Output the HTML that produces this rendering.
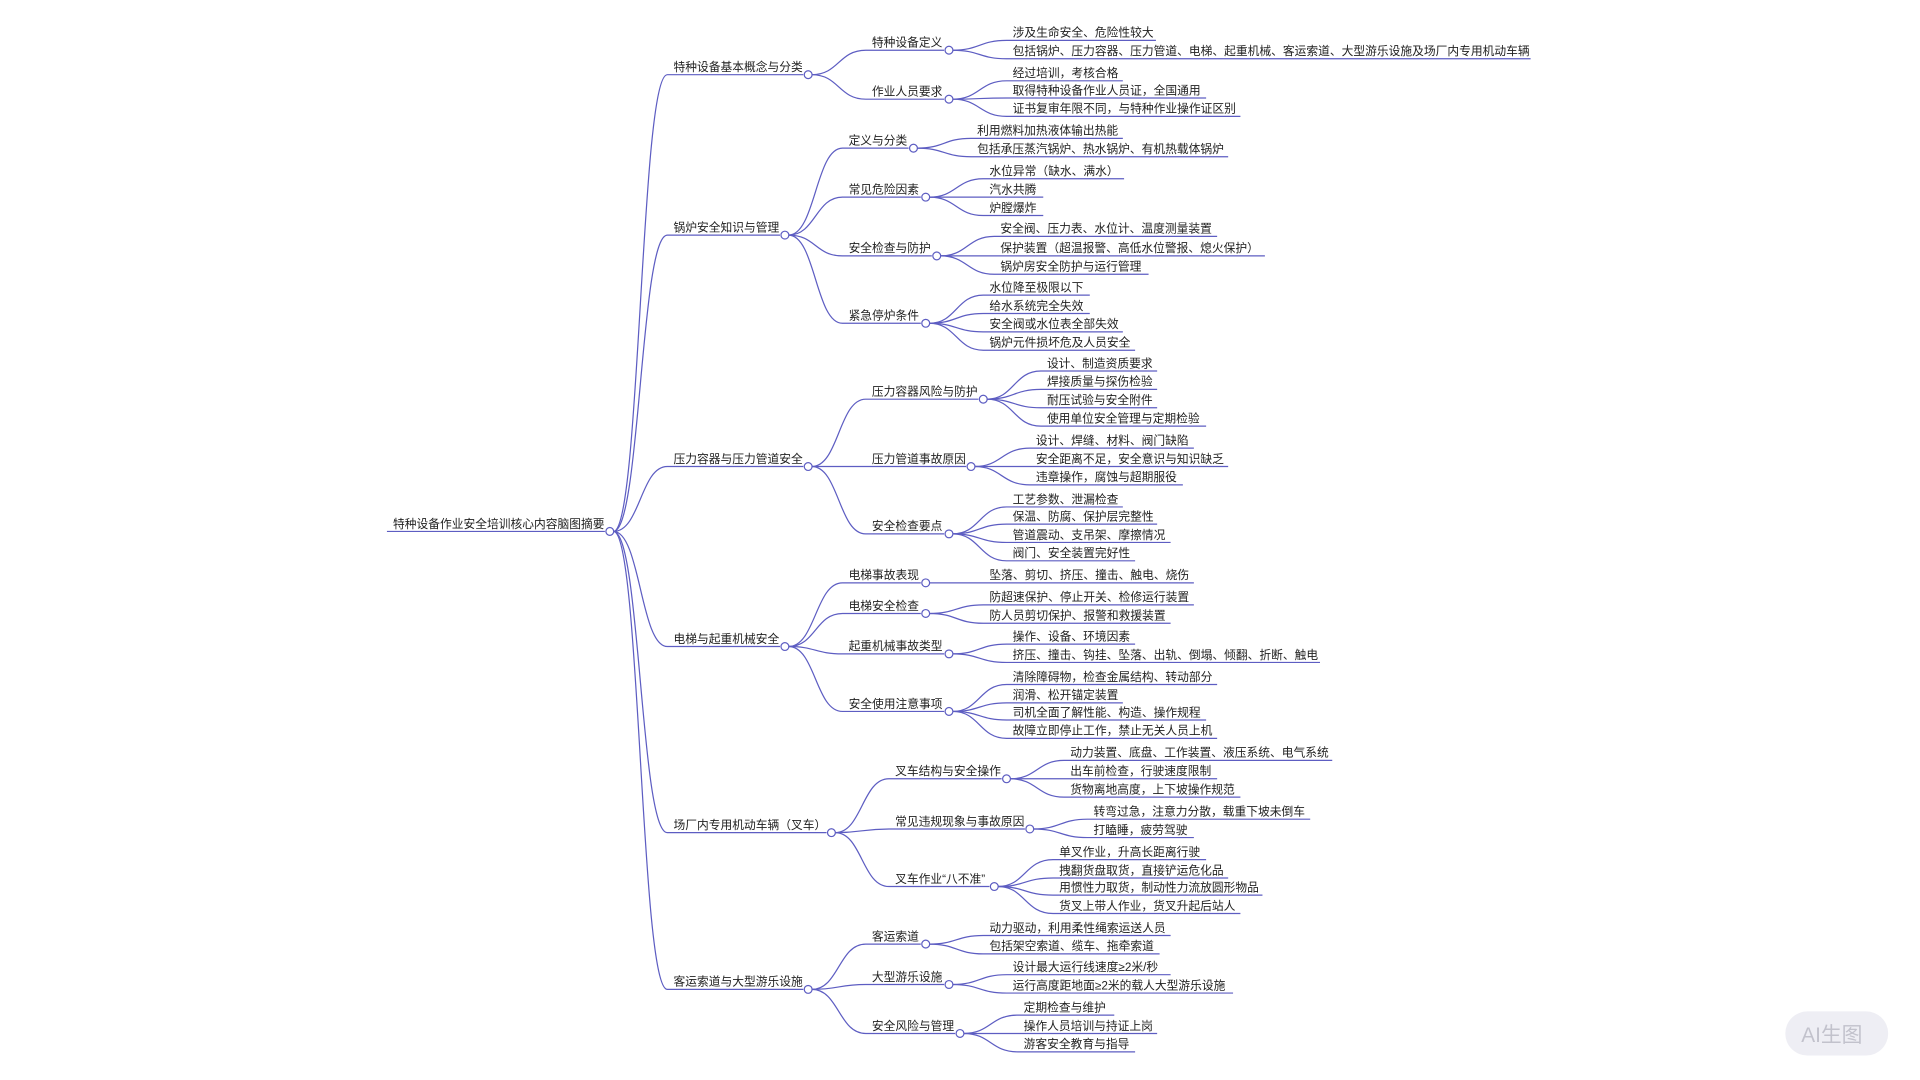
<!DOCTYPE html>
<html><head><meta charset="utf-8"><style>
html,body{margin:0;padding:0;background:#fff;width:1920px;height:1080px;overflow:hidden}
svg{display:block}
text{font-family:"Liberation Sans","Noto Sans CJK SC",sans-serif;font-size:9.6px;fill:#222}
path{fill:none;stroke:#5d5dc2;stroke-width:1}
circle{fill:#fff;stroke:#5d5dc2;stroke-width:1}
</style></head><body>
<svg width="1920" height="1080" viewBox="0 0 1568 882" preserveAspectRatio="none" xmlns="http://www.w3.org/2000/svg">
<path d="M316 434 H494"/>
<text x="321" y="431">特种设备作业安全培训核心内容脑图摘要</text>
<path d="M501 434 C523 434,523 61,545 61 H656"/>
<path d="M501 434 C523 434,523 192,545 192 H637"/>
<path d="M501 434 C523 434,523 381,545 381 H656"/>
<path d="M501 434 C523 434,523 528,545 528 H637"/>
<path d="M501 434 C523 434,523 680,545 680 H675"/>
<path d="M501 434 C523 434,523 808,545 808 H656"/>
<text x="550" y="58">特种设备基本概念与分类</text>
<text x="550" y="189">锅炉安全知识与管理</text>
<text x="550" y="378">压力容器与压力管道安全</text>
<text x="550" y="525">电梯与起重机械安全</text>
<text x="550" y="677">场厂内专用机动车辆（叉车）</text>
<text x="550" y="805">客运索道与大型游乐设施</text>

<path d="M663 61 C685 61,685 41,707 41 H771"/>
<path d="M663 61 C685 61,685 81,707 81 H771"/>
<text x="712" y="38">特种设备定义</text>
<text x="712" y="78">作业人员要求</text>
<path d="M778 41 C800 41,800 33,822 33 H944"/>
<path d="M778 41 C800 41,800 48,822 48 H1250"/>
<path d="M778 81 C800 81,800 66,822 66 H917"/>
<path d="M778 81 C800 81,800 80,822 80 H985"/>
<path d="M778 81 C800 81,800 95,822 95 H1013"/>
<text x="827" y="30">涉及生命安全、危险性较大</text>
<text x="827" y="45">包括锅炉、压力容器、压力管道、电梯、起重机械、客运索道、大型游乐设施及场厂内专用机动车辆</text>
<text x="827" y="63">经过培训，考核合格</text>
<text x="827" y="77">取得特种设备作业人员证，全国通用</text>
<text x="827" y="92">证书复审年限不同，与特种作业操作证区别</text>

<path d="M644 192 C666 192,666 121,688 121 H742"/>
<path d="M644 192 C666 192,666 161,688 161 H752"/>
<path d="M644 192 C666 192,666 209,688 209 H761"/>
<path d="M644 192 C666 192,666 264,688 264 H752"/>
<text x="693" y="118">定义与分类</text>
<text x="693" y="158">常见危险因素</text>
<text x="693" y="206">安全检查与防护</text>
<text x="693" y="261">紧急停炉条件</text>
<path d="M749 121 C771 121,771 113,793 113 H917"/>
<path d="M749 121 C771 121,771 128,793 128 H1003"/>
<text x="798" y="110">利用燃料加热液体输出热能</text>
<text x="798" y="125">包括承压蒸汽锅炉、热水锅炉、有机热载体锅炉</text>
<path d="M759 161 C781 161,781 146,803 146 H918"/>
<path d="M759 161 C781 161,781 161,803 161 H852"/>
<path d="M759 161 C781 161,781 176,803 176 H852"/>
<text x="808" y="143">水位异常（缺水、满水）</text>
<text x="808" y="158">汽水共腾</text>
<text x="808" y="173">炉膛爆炸</text>
<path d="M768 209 C790 209,790 193,812 193 H994"/>
<path d="M768 209 C790 209,790 209,812 209 H1033"/>
<path d="M768 209 C790 209,790 224,812 224 H938"/>
<text x="817" y="190">安全阀、压力表、水位计、温度测量装置</text>
<text x="817" y="206">保护装置（超温报警、高低水位警报、熄火保护）</text>
<text x="817" y="221">锅炉房安全防护与运行管理</text>
<path d="M759 264 C781 264,781 241,803 241 H890"/>
<path d="M759 264 C781 264,781 256,803 256 H890"/>
<path d="M759 264 C781 264,781 271,803 271 H917"/>
<path d="M759 264 C781 264,781 286,803 286 H927"/>
<text x="808" y="238">水位降至极限以下</text>
<text x="808" y="253">给水系统完全失效</text>
<text x="808" y="268">安全阀或水位表全部失效</text>
<text x="808" y="283">锅炉元件损坏危及人员安全</text>

<path d="M663 381 C685 381,685 326,707 326 H799"/>
<path d="M663 381 C685 381,685 381,707 381 H789"/>
<path d="M663 381 C685 381,685 436,707 436 H771"/>
<text x="712" y="323">压力容器风险与防护</text>
<text x="712" y="378">压力管道事故原因</text>
<text x="712" y="433">安全检查要点</text>
<path d="M806 326 C828 326,828 303,850 303 H945"/>
<path d="M806 326 C828 326,828 318,850 318 H945"/>
<path d="M806 326 C828 326,828 333,850 333 H945"/>
<path d="M806 326 C828 326,828 348,850 348 H985"/>
<text x="855" y="300">设计、制造资质要求</text>
<text x="855" y="315">焊接质量与探伤检验</text>
<text x="855" y="330">耐压试验与安全附件</text>
<text x="855" y="345">使用单位安全管理与定期检验</text>
<path d="M796 381 C818 381,818 366,841 366 H975"/>
<path d="M796 381 C818 381,818 381,841 381 H1003"/>
<path d="M796 381 C818 381,818 396,841 396 H966"/>
<text x="846" y="363">设计、焊缝、材料、阀门缺陷</text>
<text x="846" y="378">安全距离不足，安全意识与知识缺乏</text>
<text x="846" y="393">违章操作，腐蚀与超期服役</text>
<path d="M778 436 C800 436,800 414,822 414 H917"/>
<path d="M778 436 C800 436,800 428,822 428 H945"/>
<path d="M778 436 C800 436,800 443,822 443 H956"/>
<path d="M778 436 C800 436,800 458,822 458 H927"/>
<text x="827" y="411">工艺参数、泄漏检查</text>
<text x="827" y="425">保温、防腐、保护层完整性</text>
<text x="827" y="440">管道震动、支吊架、摩擦情况</text>
<text x="827" y="455">阀门、安全装置完好性</text>

<path d="M644 528 C666 528,666 476,688 476 H752"/>
<path d="M644 528 C666 528,666 501,688 501 H752"/>
<path d="M644 528 C666 528,666 534,688 534 H771"/>
<path d="M644 528 C666 528,666 581,688 581 H771"/>
<text x="693" y="473">电梯事故表现</text>
<text x="693" y="498">电梯安全检查</text>
<text x="693" y="531">起重机械事故类型</text>
<text x="693" y="578">安全使用注意事项</text>
<path d="M759 476 C781 476,781 476,803 476 H975"/>
<text x="808" y="473">坠落、剪切、挤压、撞击、触电、烧伤</text>
<path d="M759 501 C781 501,781 494,803 494 H975"/>
<path d="M759 501 C781 501,781 509,803 509 H956"/>
<text x="808" y="491">防超速保护、停止开关、检修运行装置</text>
<text x="808" y="506">防人员剪切保护、报警和救援装置</text>
<path d="M778 534 C800 534,800 526,822 526 H927"/>
<path d="M778 534 C800 534,800 541,822 541 H1078"/>
<text x="827" y="523">操作、设备、环境因素</text>
<text x="827" y="538">挤压、撞击、钩挂、坠落、出轨、倒塌、倾翻、折断、触电</text>
<path d="M778 581 C800 581,800 559,822 559 H994"/>
<path d="M778 581 C800 581,800 574,822 574 H917"/>
<path d="M778 581 C800 581,800 588,822 588 H985"/>
<path d="M778 581 C800 581,800 603,822 603 H994"/>
<text x="827" y="556">清除障碍物，检查金属结构、转动部分</text>
<text x="827" y="571">润滑、松开锚定装置</text>
<text x="827" y="585">司机全面了解性能、构造、操作规程</text>
<text x="827" y="600">故障立即停止工作，禁止无关人员上机</text>

<path d="M682 680 C704 680,704 636,726 636 H818"/>
<path d="M682 680 C704 680,704 677,726 677 H837"/>
<path d="M682 680 C704 680,704 724,726 724 H808"/>
<text x="731" y="633">叉车结构与安全操作</text>
<text x="731" y="674">常见违规现象与事故原因</text>
<text x="731" y="721">叉车作业“八不准”</text>
<path d="M825 636 C847 636,847 621,869 621 H1088"/>
<path d="M825 636 C847 636,847 636,869 636 H994"/>
<path d="M825 636 C847 636,847 651,869 651 H1013"/>
<text x="874" y="618">动力装置、底盘、工作装置、液压系统、电气系统</text>
<text x="874" y="633">出车前检查，行驶速度限制</text>
<text x="874" y="648">货物离地高度，上下坡操作规范</text>
<path d="M844 677 C866 677,866 669,888 669 H1070"/>
<path d="M844 677 C866 677,866 684,888 684 H975"/>
<text x="893" y="666">转弯过急，注意力分散，载重下坡未倒车</text>
<text x="893" y="681">打瞌睡，疲劳驾驶</text>
<path d="M815 724 C837 724,837 702,860 702 H985"/>
<path d="M815 724 C837 724,837 717,860 717 H1003"/>
<path d="M815 724 C837 724,837 731,860 731 H1031"/>
<path d="M815 724 C837 724,837 746,860 746 H1013"/>
<text x="865" y="699">单叉作业，升高长距离行驶</text>
<text x="865" y="714">拽翻货盘取货，直接铲运危化品</text>
<text x="865" y="728">用惯性力取货，制动性力流放圆形物品</text>
<text x="865" y="743">货叉上带人作业，货叉升起后站人</text>

<path d="M663 808 C685 808,685 771,707 771 H752"/>
<path d="M663 808 C685 808,685 804,707 804 H771"/>
<path d="M663 808 C685 808,685 844,707 844 H780"/>
<text x="712" y="768">客运索道</text>
<text x="712" y="801">大型游乐设施</text>
<text x="712" y="841">安全风险与管理</text>
<path d="M759 771 C781 771,781 764,803 764 H956"/>
<path d="M759 771 C781 771,781 779,803 779 H947"/>
<text x="808" y="761">动力驱动，利用柔性绳索运送人员</text>
<text x="808" y="776">包括架空索道、缆车、拖牵索道</text>
<path d="M778 804 C800 804,800 796,822 796 H956"/>
<path d="M778 804 C800 804,800 811,822 811 H1007"/>
<text x="827" y="793">设计最大运行线速度≥2米/秒</text>
<text x="827" y="808">运行高度距地面≥2米的载人大型游乐设施</text>
<path d="M787 844 C809 844,809 829,831 829 H910"/>
<path d="M787 844 C809 844,809 844,831 844 H945"/>
<path d="M787 844 C809 844,809 859,831 859 H927"/>
<text x="836" y="826">定期检查与维护</text>
<text x="836" y="841">操作人员培训与持证上岗</text>
<text x="836" y="856">游客安全教育与指导</text>

<circle cx="498" cy="434" r="3.2"/>
<circle cx="660" cy="61" r="3.2"/>
<circle cx="641" cy="192" r="3.2"/>
<circle cx="660" cy="381" r="3.2"/>
<circle cx="641" cy="528" r="3.2"/>
<circle cx="679" cy="680" r="3.2"/>
<circle cx="660" cy="808" r="3.2"/>
<circle cx="775" cy="41" r="3.2"/>
<circle cx="775" cy="81" r="3.2"/>
<circle cx="746" cy="121" r="3.2"/>
<circle cx="756" cy="161" r="3.2"/>
<circle cx="765" cy="209" r="3.2"/>
<circle cx="756" cy="264" r="3.2"/>
<circle cx="803" cy="326" r="3.2"/>
<circle cx="793" cy="381" r="3.2"/>
<circle cx="775" cy="436" r="3.2"/>
<circle cx="756" cy="476" r="3.2"/>
<circle cx="756" cy="501" r="3.2"/>
<circle cx="775" cy="534" r="3.2"/>
<circle cx="775" cy="581" r="3.2"/>
<circle cx="822" cy="636" r="3.2"/>
<circle cx="841" cy="677" r="3.2"/>
<circle cx="812" cy="724" r="3.2"/>
<circle cx="756" cy="771" r="3.2"/>
<circle cx="775" cy="804" r="3.2"/>
<circle cx="784" cy="844" r="3.2"/>

<rect x="1458" y="826" width="84" height="36" rx="18" fill="#eeeef4"/>
<text x="1471" y="851" style="font-size:17px;fill:#c2c2cc">AI生图</text>
</svg>
</body></html>
